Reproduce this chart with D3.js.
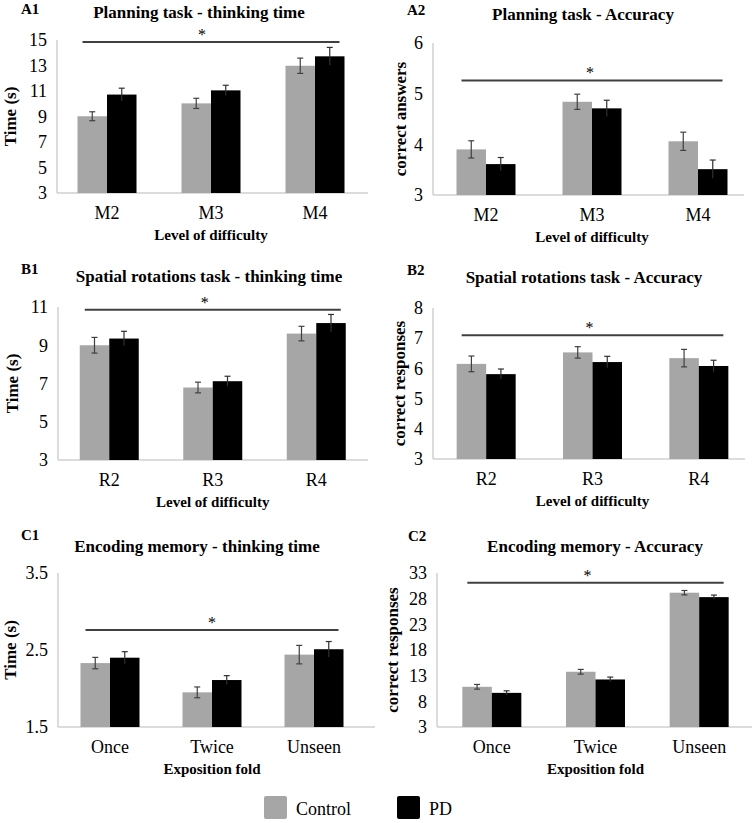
<!DOCTYPE html>
<html>
<head>
<meta charset="utf-8">
<script src="https://cdn.jsdelivr.net/npm/d3@7/dist/d3.min.js"></script>
<style>
  html, body { margin: 0; padding: 0; background: #fff; }
  svg { display: block; }
  text { font-family: "Liberation Serif", "Times New Roman", "DejaVu Serif", serif; fill: #000; }
</style>
</head>
<body>
<svg id="chart" width="755" height="823"></svg>
<script>
// ---------------- DATA ----------------
const series = ["Control", "PD"];
const catsA = ["M2", "M3", "M4"];
const catsB = ["R2", "R3", "R4"];
const catsC = ["Once", "Twice", "Unseen"];

const a1Control = [9.02, 10.03, 12.98];
const a1ControlErr = [0.35, 0.4, 0.6];
const a1PD = [10.72, 11.05, 13.72];
const a1PDErr = [0.5, 0.4, 0.7];
const a1Ticks = [3, 5, 7, 9, 11, 13, 15];

const a2Control = [3.9, 4.84, 4.06];
const a2ControlErr = [0.17, 0.15, 0.18];
const a2PD = [3.61, 4.71, 3.51];
const a2PDErr = [0.13, 0.16, 0.18];
const a2Ticks = [3, 4, 5, 6];

const b1Control = [9.0, 6.79, 9.61];
const b1ControlErr = [0.41, 0.28, 0.38];
const b1PD = [9.35, 7.12, 10.16];
const b1PDErr = [0.38, 0.26, 0.45];
const b1Ticks = [3, 5, 7, 9, 11];

const b2Control = [6.15, 6.53, 6.34];
const b2ControlErr = [0.26, 0.19, 0.29];
const b2PD = [5.81, 6.21, 6.08];
const b2PDErr = [0.17, 0.19, 0.19];
const b2Ticks = [3, 4, 5, 6, 7, 8];

const c1Control = [2.33, 1.95, 2.44];
const c1ControlErr = [0.074, 0.07, 0.12];
const c1PD = [2.40, 2.11, 2.51];
const c1PDErr = [0.078, 0.057, 0.1];
const c1Ticks = [1.5, 2.5, 3.5];

const c2Control = [10.83, 13.76, 29.16];
const c2ControlErr = [0.46, 0.46, 0.43];
const c2PD = [9.65, 12.26, 28.3];
const c2PDErr = [0.4, 0.46, 0.4];
const c2Ticks = [3, 8, 13, 18, 23, 28, 33];

// significance bar level (data units) for each panel
const sigLevels = [14.85, 5.26, 10.86, 7.1, 2.76, 31.1];

const panelLabels = ["A1", "A2", "B1", "B2", "C1", "C2"];
const panelTitles = [
  "Planning task - thinking time",
  "Planning task - Accuracy",
  "Spatial rotations task - thinking time",
  "Spatial rotations task - Accuracy",
  "Encoding memory - thinking time",
  "Encoding memory - Accuracy"
];
const yTitles = ["Time (s)", "correct answers", "Time (s)", "correct responses", "Time (s)", "correct responses"];
const xTitles = ["Level of difficulty", "Level of difficulty", "Level of difficulty", "Level of difficulty", "Exposition fold", "Exposition fold"];

// ---------------- LAYOUT ----------------
const colors = { Control: "#a6a6a6", PD: "#000000" };
const axisColor = "#d0d0d0";
const lineColor = "#404040";
const barW = 29.5;
const serif = '"Liberation Serif", "Times New Roman", "DejaVu Serif", serif';

const layouts = [
  { ax: 57,  bl: 55,  br: 367, xe: 368, yt: 40,  yb: 193, tx: 199, ty: 18,  lx: 21,  ly: 14,  ytx: 10,  sdx: -9 },
  { ax: 433, bl: 433, br: 751, xe: 744, yt: 43,  yb: 195, tx: 583, ty: 20,  lx: 407, ly: 15,  ytx: 400, sdx: -2 },
  { ax: 58,  bl: 57.5,br: 368, xe: 368, yt: 307, yb: 460, tx: 209, ty: 282, lx: 21,  ly: 274, ytx: 12,  sdx: -8 },
  { ax: 433, bl: 433, br: 752, xe: 745, yt: 308, yb: 459, tx: 584, ty: 283, lx: 407, ly: 275, ytx: 399, sdx: -3 },
  { ax: 58,  bl: 59,  br: 365, xe: 375, yt: 573, yb: 727, tx: 197, ty: 552, lx: 21,  ly: 540, ytx: 10,  sdx: 0 },
  { ax: 437, bl: 440, br: 751, xe: 752, yt: 573, yb: 727, tx: 595, ty: 552, lx: 408, ly: 541, ytx: 392, sdx: -8 }
];

const panels = [
  { cats: catsA, ctrl: a1Control, ctrlErr: a1ControlErr, pd: a1PD, pdErr: a1PDErr, ticks: a1Ticks },
  { cats: catsA, ctrl: a2Control, ctrlErr: a2ControlErr, pd: a2PD, pdErr: a2PDErr, ticks: a2Ticks },
  { cats: catsB, ctrl: b1Control, ctrlErr: b1ControlErr, pd: b1PD, pdErr: b1PDErr, ticks: b1Ticks },
  { cats: catsB, ctrl: b2Control, ctrlErr: b2ControlErr, pd: b2PD, pdErr: b2PDErr, ticks: b2Ticks },
  { cats: catsC, ctrl: c1Control, ctrlErr: c1ControlErr, pd: c1PD, pdErr: c1PDErr, ticks: c1Ticks },
  { cats: catsC, ctrl: c2Control, ctrlErr: c2ControlErr, pd: c2PD, pdErr: c2PDErr, ticks: c2Ticks }
];

const svg = d3.select("#chart");

panels.forEach((p, i) => {
  const L = layouts[i];
  const g = svg.append("g");

  const x = d3.scaleBand().domain(p.cats).range([L.bl, L.br]);
  const xs = d3.scaleBand().domain(series).range([-barW, barW]);
  const y = d3.scaleLinear().domain([p.ticks[0], p.ticks[p.ticks.length - 1]]).range([L.yb, L.yt]);

  // panel label + title
  g.append("text").attr("x", L.lx).attr("y", L.ly)
    .attr("font-size", 15).attr("font-weight", "bold").text(panelLabels[i]);
  g.append("text").attr("x", L.tx).attr("y", L.ty).attr("text-anchor", "middle")
    .attr("font-size", 17).attr("font-weight", "bold").text(panelTitles[i]);

  // y axis ticks
  const yAxis = d3.axisLeft(y).tickValues(p.ticks).tickSize(0).tickPadding(10)
    .tickFormat(d3.format(i === 4 ? ".1f" : "d"));
  const ya = g.append("g").attr("transform", `translate(${L.ax},0)`).call(yAxis);
  ya.select(".domain").remove();
  ya.attr("font-family", null).attr("font-size", null);
  ya.selectAll("text").attr("font-size", 18).style("font-family", serif).attr("fill", "#000");

  // x axis ticks
  const xAxis = d3.axisBottom(x).tickSize(0).tickPadding(13);
  const xa = g.append("g").attr("transform", `translate(0,${L.yb})`).call(xAxis);
  xa.select(".domain").remove();
  xa.attr("font-family", null).attr("font-size", null);
  xa.selectAll("text").attr("font-size", 18).style("font-family", serif).attr("fill", "#000");

  // axis lines
  g.append("line").attr("x1", L.ax).attr("x2", L.ax).attr("y1", L.yt).attr("y2", L.yb)
    .attr("stroke", axisColor).attr("stroke-width", 1.5);
  g.append("line").attr("x1", L.ax).attr("x2", L.xe).attr("y1", L.yb).attr("y2", L.yb)
    .attr("stroke", axisColor).attr("stroke-width", 1.5);

  // bars
  const rows = [];
  p.cats.forEach((c, j) => {
    rows.push({ cat: c, s: "Control", v: p.ctrl[j], e: p.ctrlErr[j] });
    rows.push({ cat: c, s: "PD", v: p.pd[j], e: p.pdErr[j] });
  });
  const cx = d => x(d.cat) + x.bandwidth() / 2 + xs(d.s);
  g.selectAll("rect.bar").data(rows).enter().append("rect").attr("class", "bar")
    .attr("x", d => cx(d))
    .attr("width", xs.bandwidth())
    .attr("y", d => y(d.v))
    .attr("height", d => L.yb - y(d.v))
    .attr("fill", d => colors[d.s]);

  // error bars
  const eb = g.selectAll("g.err").data(rows).enter().append("g").attr("class", "err")
    .attr("stroke", d => d.s === "PD" ? "#303030" : lineColor).attr("stroke-width", 1.2);
  const mid = d => cx(d) + xs.bandwidth() / 2;
  eb.append("line").attr("x1", mid).attr("x2", mid)
    .attr("y1", d => y(d.v + d.e)).attr("y2", d => y(d.v - d.e));
  eb.append("line").attr("x1", d => mid(d) - 3).attr("x2", d => mid(d) + 3)
    .attr("y1", d => y(d.v + d.e)).attr("y2", d => y(d.v + d.e));
  eb.filter(d => d.s === "Control").append("line").attr("x1", d => mid(d) - 3).attr("x2", d => mid(d) + 3)
    .attr("y1", d => y(d.v - d.e)).attr("y2", d => y(d.v - d.e));

  // significance bar
  const sx1 = x(p.cats[0]) + x.bandwidth() / 2 - barW + 5;
  const sx2 = x(p.cats[p.cats.length - 1]) + x.bandwidth() / 2 + barW - 5;
  const sy = y(sigLevels[i]);
  g.append("line").attr("x1", sx1).attr("x2", sx2).attr("y1", sy).attr("y2", sy)
    .attr("stroke", lineColor).attr("stroke-width", 2);
  g.append("text").attr("x", (sx1 + sx2) / 2 + L.sdx).attr("y", sy - 2).attr("text-anchor", "middle")
    .attr("font-size", 16).attr("fill", "#222").text("*");

  // axis titles
  g.append("text").attr("x", x(p.cats[1]) + x.bandwidth() / 2).attr("y", L.yb + 47)
    .attr("text-anchor", "middle").attr("font-size", 15).attr("font-weight", "bold").text(xTitles[i]);
  g.append("text").attr("transform", `translate(${L.ytx},${(L.yt + L.yb) / 2}) rotate(-90)`)
    .attr("text-anchor", "middle").attr("dominant-baseline", "central")
    .attr("font-size", 17).attr("font-weight", "bold").text(yTitles[i]);
});

// legend
const legendX = [264, 397];
const leg = svg.append("g");
series.forEach((s, k) => {
  leg.append("rect").attr("x", legendX[k]).attr("y", 796).attr("width", 23).attr("height", 23)
    .attr("rx", 2).attr("fill", colors[s]);
  leg.append("text").attr("x", legendX[k] + 32).attr("y", 815).attr("font-size", 18).text(s);
});
</script>
</body>
</html>
